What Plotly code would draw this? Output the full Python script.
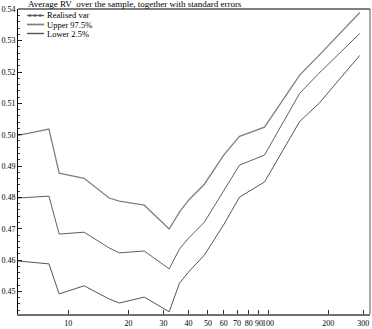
import plotly.graph_objects as go
import math

x_vals = [5.6, 8, 9, 12, 16, 18, 24, 32, 36, 40, 48, 60, 72, 96, 144, 180, 288]
upper = [0.4998, 0.5018, 0.4877, 0.4861, 0.4798, 0.4788, 0.4775, 0.4699, 0.4753, 0.4791,
         0.4842, 0.4935, 0.4995, 0.5024, 0.5190, 0.5253, 0.5390]
realised = [0.4798, 0.4804, 0.4683, 0.4689, 0.4639, 0.4623, 0.4629, 0.4572, 0.4635, 0.4670,
            0.4721, 0.4820, 0.4903, 0.4935, 0.5132, 0.5196, 0.5323]
lower = [0.4597, 0.4588, 0.4492, 0.4518, 0.4476, 0.4463, 0.4482, 0.4435, 0.4526, 0.4562,
         0.4616, 0.4713, 0.4801, 0.4849, 0.5042, 0.5100, 0.5253]

x_ticks = [10, 20, 30, 40, 50, 60, 70, 80, 90, 100, 200, 300]
x_ticktext = ["10", "20", "30", "40", "50", "60", "70", "80", "90", "100", "200", "300"]
y_ticks = [0.45, 0.46, 0.47, 0.48, 0.49, 0.50, 0.51, 0.52, 0.53, 0.54]
y_ticktext = ["0.45", "0.46", "0.47", "0.48", "0.49", "0.50", "0.51", "0.52", "0.53", "0.54"]
legend_names = ["Realised var", "Upper 97.5%", "Lower 2.5%"]

font = "Liberation Serif"
W, H = 372, 329
L, R, T, B = 18, 2, 9, 15
pw, ph = W - L - R, H - T - B


def px(xp):
    return (xp - L) / pw


def py(yp):
    return (H - B - yp) / ph


colors = ["#606060", "#808080", "#555555"]
widths = [1, 1.3, 1]
series = [realised, upper, lower]

fig = go.Figure()
for name, vals, c, w in zip(legend_names, series, colors, widths):
    fig.add_trace(go.Scatter(x=x_vals, y=vals, mode="lines", name=name,
                             line=dict(color=c, width=w), showlegend=False))

annotations = [dict(text="Average RV  over the sample, together with standard errors",
                    xref="paper", yref="paper", x=px(26), y=1.0, xanchor="left", yanchor="bottom",
                    yshift=-2, showarrow=False, font=dict(family=font, size=9))]
shapes = []
leg_y = [15.5, 24.5, 33.5]
for name, c, w, yy in zip(legend_names, colors, widths, leg_y):
    shapes.append(dict(type="line", xref="paper", yref="paper", x0=px(27), x1=px(44),
                       y0=py(yy), y1=py(yy), line=dict(color=c, width=w + 0.4)))
    annotations.append(dict(text=name, xref="paper", yref="paper", x=px(45), y=py(yy),
                            xanchor="left", yanchor="middle", showarrow=False,
                            font=dict(family=font, size=8.5)))
# small ticks on the realised var legend sample
for xt in [30, 35, 40]:
    shapes.append(dict(type="line", xref="paper", yref="paper", x0=px(xt), x1=px(xt),
                       y0=py(leg_y[0] - 1.5), y1=py(leg_y[0] + 1.5),
                       line=dict(color="#404040", width=1)))
# frame top and right borders
shapes.append(dict(type="line", xref="paper", yref="paper", x0=0, x1=1, y0=1, y1=1,
                   line=dict(color="black", width=1)))
shapes.append(dict(type="line", xref="paper", yref="paper", x0=1, x1=1, y0=0, y1=1,
                   line=dict(color="#555", width=1)))

fig.update_layout(
    width=W, height=H,
    margin=dict(l=L, r=R, t=T, b=B),
    paper_bgcolor="white", plot_bgcolor="white",
    font=dict(family=font, size=8, color="black"),
    showlegend=False,
    annotations=annotations,
    shapes=shapes,
)
fig.update_xaxes(type="log", range=[math.log10(5.6), math.log10(324)],
                 tickvals=x_ticks, ticktext=x_ticktext, tickangle=0, ticks="inside", ticklen=4,
                 showgrid=False, zeroline=False, showline=True, linecolor="#707070", linewidth=2,
                 mirror=False, tickfont=dict(family=font, size=8), tickcolor="#333")
fig.update_yaxes(range=[0.4428, 0.5401], tickvals=y_ticks, ticktext=y_ticktext,
                 ticks="inside", ticklen=4, tickcolor="#222",
                 minor=dict(dtick=0.002, tick0=0.44, ticks="inside", ticklen=2, tickcolor="#444"),
                 showgrid=False, zeroline=False, showline=True, linecolor="black", linewidth=1,
                 mirror=False, tickfont=dict(family=font, size=8))

fig.write_html("out.html")
